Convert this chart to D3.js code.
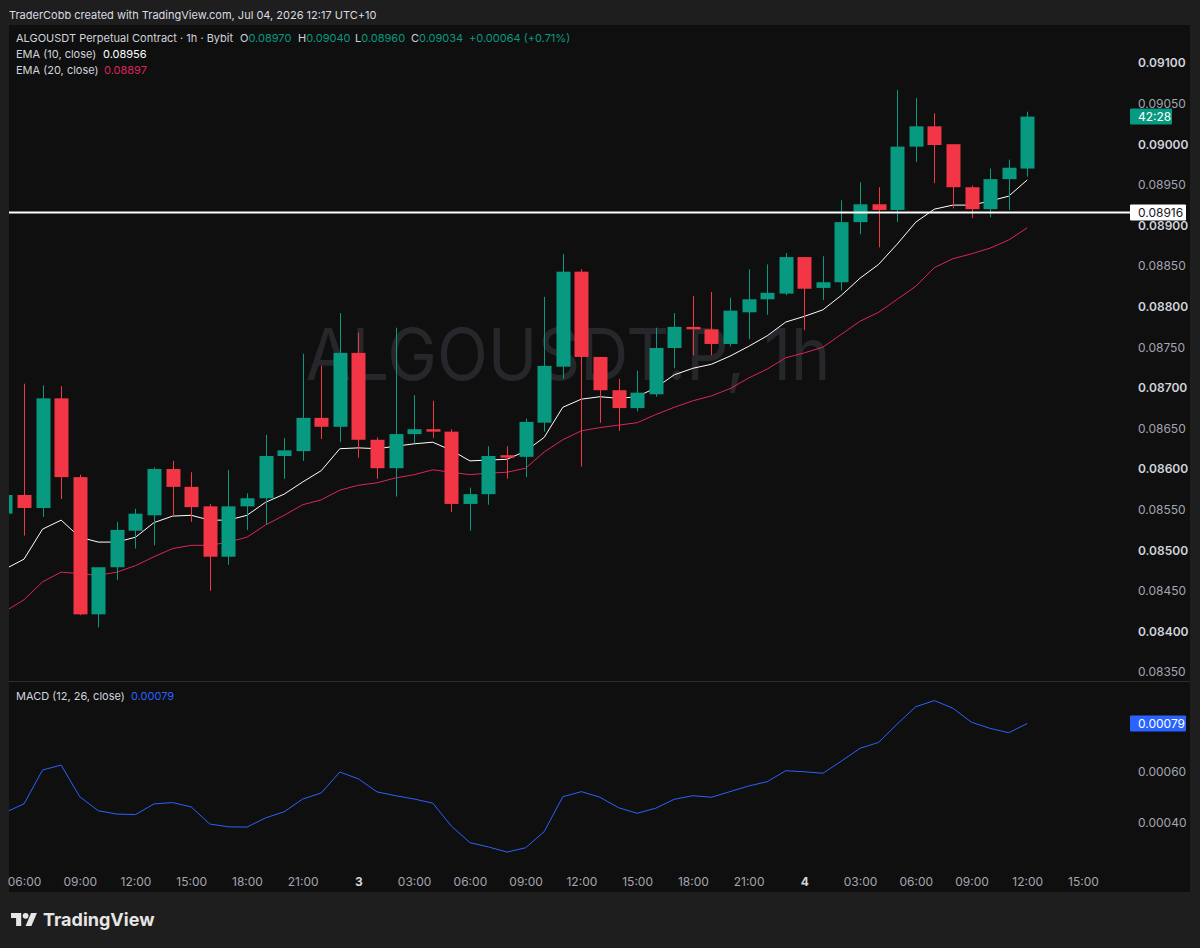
<!DOCTYPE html>
<html>
<head>
<meta charset="utf-8">
<script src="https://cdn.jsdelivr.net/npm/d3@7"></script>
<style>
  html, body { margin: 0; padding: 0; background: #1e1e1e; }
  svg { display: block; font-family: Inter, "Noto Sans", sans-serif; }
</style>
</head>
<body>
<svg id="chart" width="1200" height="948"></svg>
<script>
// hourly bars, first one is Jul 2 05:00 (chart time)
const firstBar = Date.UTC(2026, 6, 2, 5);

const opens = [0.08545, 0.08568, 0.08552, 0.08687, 0.08590, 0.08421, 0.08479, 0.08524, 0.08543, 0.08600, 0.08578, 0.08554, 0.08492, 0.08554,
  0.08564, 0.08616, 0.08622, 0.08663, 0.08652, 0.08743, 0.08636, 0.08601, 0.08643, 0.08649, 0.08646, 0.08557, 0.08569, 0.08617, 0.08615,
  0.08657, 0.08726, 0.08843, 0.08738, 0.08697, 0.08675, 0.08692, 0.08749, 0.08775, 0.08772, 0.08754, 0.08793, 0.08809, 0.08816, 0.08861, 0.08823,
  0.08830, 0.08904, 0.08926, 0.08919, 0.08997, 0.09022, 0.09000, 0.08947, 0.08920, 0.08957, 0.08970];
const highs = [0.08574, 0.08705, 0.08703, 0.08702, 0.08593, 0.08479, 0.08535, 0.08551, 0.08602, 0.08610, 0.08596, 0.08557, 0.08599, 0.08570,
  0.08642, 0.08638, 0.08742, 0.08727, 0.08792, 0.08768, 0.08639, 0.08774, 0.08691, 0.08684, 0.08649, 0.08577, 0.08628, 0.08628, 0.08662,
  0.08812, 0.08865, 0.08846, 0.08738, 0.08711, 0.08721, 0.08774, 0.08792, 0.08813, 0.08818, 0.08811, 0.08846, 0.08852, 0.08866, 0.08861, 0.08862,
  0.08931, 0.08953, 0.08947, 0.09067, 0.09057, 0.09038, 0.09000, 0.08949, 0.08970, 0.08981, 0.09040];
const lows = [0.08540, 0.08518, 0.08541, 0.08563, 0.08420, 0.08405, 0.08463, 0.08502, 0.08506, 0.08542, 0.08535, 0.08450, 0.08482, 0.08525,
  0.08532, 0.08588, 0.08610, 0.08637, 0.08633, 0.08614, 0.08588, 0.08566, 0.08632, 0.08638, 0.08547, 0.08524, 0.08556, 0.08588, 0.08590,
  0.08646, 0.08711, 0.08603, 0.08657, 0.08647, 0.08671, 0.08689, 0.08724, 0.08740, 0.08740, 0.08751, 0.08760, 0.08790, 0.08814, 0.08771, 0.08808,
  0.08820, 0.08889, 0.08873, 0.08904, 0.08978, 0.08952, 0.08921, 0.08909, 0.08910, 0.08919, 0.08960];
const closes = [0.08568, 0.08552, 0.08687, 0.08590, 0.08421, 0.08479, 0.08525, 0.08545, 0.08600, 0.08578, 0.08553, 0.08492, 0.08554, 0.08564,
  0.08616, 0.08623, 0.08663, 0.08652, 0.08743, 0.08636, 0.08601, 0.08643, 0.08649, 0.08646, 0.08557, 0.08569, 0.08616, 0.08614, 0.08658,
  0.08727, 0.08843, 0.08738, 0.08697, 0.08675, 0.08694, 0.08749, 0.08775, 0.08772, 0.08754, 0.08795, 0.08809, 0.08817, 0.08861, 0.08822, 0.08830,
  0.08904, 0.08926, 0.08919, 0.08997, 0.09022, 0.08999, 0.08947, 0.08920, 0.08957, 0.08971, 0.09034];

const ema10 = [0.08477, 0.08489, 0.08526, 0.08537, 0.08516, 0.08510, 0.08510, 0.08516, 0.08534, 0.08542, 0.08543, 0.08537, 0.08537, 0.08543,
  0.08559, 0.08569, 0.08584, 0.08598, 0.08625, 0.08626, 0.08625, 0.08628, 0.08631, 0.08633, 0.08623, 0.08610, 0.08611, 0.08612, 0.08622,
  0.08639, 0.08676, 0.08686, 0.08689, 0.08687, 0.08689, 0.08700, 0.08716, 0.08724, 0.08729, 0.08739, 0.08751, 0.08764, 0.08781, 0.08788, 0.08796,
  0.08814, 0.08835, 0.08852, 0.08877, 0.08904, 0.08920, 0.08925, 0.08925, 0.08930, 0.08936, 0.08956];
const ema20 = [0.08425, 0.08439, 0.08461, 0.08473, 0.08471, 0.08469, 0.08473, 0.08481, 0.08492, 0.08502, 0.08506, 0.08506, 0.08510, 0.08516,
  0.08531, 0.08543, 0.08556, 0.08562, 0.08574, 0.08580, 0.08583, 0.08589, 0.08593, 0.08599, 0.08596, 0.08593, 0.08595, 0.08596, 0.08601,
  0.08621, 0.08636, 0.08647, 0.08651, 0.08654, 0.08657, 0.08667, 0.08676, 0.08684, 0.08690, 0.08699, 0.08712, 0.08723, 0.08737, 0.08743, 0.08750,
  0.08766, 0.08782, 0.08793, 0.08809, 0.08825, 0.08848, 0.08859, 0.08865, 0.08872, 0.08882, 0.08897];
const macd = [0.000442, 0.000475, 0.000608, 0.000627, 0.000503, 0.000448, 0.000435, 0.000433, 0.000475, 0.000480, 0.000463, 0.000396, 0.000385, 0.000384,
  0.000420, 0.000444, 0.000494, 0.000518, 0.000600, 0.000573, 0.000522, 0.000507, 0.000494, 0.000478, 0.000388, 0.000323, 0.000306, 0.000286, 0.000303,
  0.000366, 0.000503, 0.000523, 0.000501, 0.000460, 0.000438, 0.000458, 0.000493, 0.000507, 0.000501, 0.000523, 0.000545, 0.000562, 0.000605, 0.000601, 0.000595,
  0.000643, 0.000693, 0.000716, 0.000788, 0.000856, 0.000880, 0.000850, 0.000795, 0.000771, 0.000754, 0.00079];

const priceTicks = [0.0835, 0.0840, 0.0845, 0.0850, 0.0855, 0.0860, 0.0865, 0.0870, 0.0875, 0.0880, 0.0885, 0.0890, 0.0895, 0.0900, 0.0905, 0.0910];
const macdTicks = [0.0004, 0.0006];
const timeLabels = ["06:00", "09:00", "12:00", "15:00", "18:00", "21:00", "3", "03:00", "06:00", "09:00", "12:00", "15:00",
  "18:00", "21:00", "4", "03:00", "06:00", "09:00", "12:00", "15:00"];
const levelPrice = 0.08916;
const countdown = "42:28";

const upColor = "#089981";
const downColor = "#f23645";
const emaFastColor = "#ffffff";
const emaSlowColor = "#dd2456";
const macdColor = "#2962ff";

const bars = opens.map((o, i) => ({
  t: new Date(firstBar + i * 3600000),
  o: o, h: highs[i], l: lows[i], c: closes[i],
  e10: ema10[i], e20: ema20[i], m: macd[i]
}));

const svg = d3.select("#chart");
const pane = { left: 9, right: 1190, top: 25, bottom: 892, split: 681, plotRight: 1128 };

// scales
const x = d3.scaleUtc()
  .domain([new Date(Date.UTC(2026, 6, 2, 6)), new Date(Date.UTC(2026, 6, 4, 15))])
  .range([24, 1083]);
const y = d3.scaleLinear().domain([0.0835, 0.0910]).range([672, 63]);
const ym = d3.scaleLinear().domain([0.0004, 0.0006]).range([823, 772]);
const bodyW = 14;

// frame + chart background
svg.append("rect").attr("width", 1200).attr("height", 948).attr("fill", "#1e1e1e");
svg.append("rect")
  .attr("x", pane.left).attr("y", pane.top)
  .attr("width", pane.right - pane.left).attr("height", pane.bottom - pane.top)
  .attr("fill", "#0f0f0f");
svg.append("line")
  .attr("x1", pane.left).attr("x2", pane.right)
  .attr("y1", pane.split + 0.5).attr("y2", pane.split + 0.5)
  .attr("stroke", "#2e2e2e");

const defs = svg.append("defs");
defs.append("clipPath").attr("id", "clip-price").append("rect")
  .attr("x", pane.left).attr("y", pane.top)
  .attr("width", pane.plotRight - pane.left).attr("height", pane.split - pane.top);
defs.append("clipPath").attr("id", "clip-macd").append("rect")
  .attr("x", pane.left).attr("y", pane.split + 1)
  .attr("width", pane.plotRight - pane.left).attr("height", 862 - pane.split);

// watermark
svg.append("text")
  .attr("x", 568).attr("y", 380)
  .attr("text-anchor", "middle")
  .attr("font-size", 72)
  .attr("textLength", 525).attr("lengthAdjust", "spacingAndGlyphs")
  .attr("fill", "#26272b")
  .text("ALGOUSDT.P, 1h");

// price pane
const gPrice = svg.append("g").attr("clip-path", "url(#clip-price)");

const lineFast = d3.line().x(d => x(d.t)).y(d => y(d.e10));
const lineSlow = d3.line().x(d => x(d.t)).y(d => y(d.e20));

gPrice.append("path").datum(bars)
  .attr("d", lineSlow).attr("fill", "none")
  .attr("stroke", emaSlowColor).attr("stroke-width", 1);
gPrice.append("path").datum(bars)
  .attr("d", lineFast).attr("fill", "none")
  .attr("stroke", emaFastColor).attr("stroke-width", 1);

const candle = gPrice.selectAll(".candle").data(bars).join("g").attr("class", "candle");
candle.append("line")
  .attr("x1", d => Math.round(x(d.t)) + 0.5).attr("x2", d => Math.round(x(d.t)) + 0.5)
  .attr("y1", d => y(d.h)).attr("y2", d => y(d.l))
  .attr("stroke", d => d.c >= d.o ? upColor : downColor);
candle.append("rect")
  .attr("x", d => Math.round(x(d.t)) + 0.5 - bodyW / 2)
  .attr("width", bodyW)
  .attr("y", d => y(Math.max(d.o, d.c)))
  .attr("height", d => Math.max(1, Math.abs(y(d.o) - y(d.c))))
  .attr("fill", d => d.c >= d.o ? upColor : downColor);

// horizontal level
svg.append("line")
  .attr("x1", pane.left).attr("x2", 1130)
  .attr("y1", y(levelPrice)).attr("y2", y(levelPrice))
  .attr("stroke", "#ffffff").attr("stroke-width", 2);

// price axis
const isMajor = d => Math.abs(Math.round(d * 1000) - d * 1000) < 1e-6;
const axisPrice = d3.axisRight(y)
  .tickValues(priceTicks)
  .tickSize(0).tickPadding(8)
  .tickFormat(d3.format(".5f"));
const gAxisY = svg.append("g").attr("transform", "translate(1130,0)").call(axisPrice);
gAxisY.select(".domain").remove();
gAxisY.selectAll("text")
  .attr("font-family", "Inter, sans-serif")
  .attr("font-size", 12)
  .attr("font-weight", d => isMajor(d) ? 600 : 400)
  .attr("fill", d => isMajor(d) ? "#d1d4dc" : "#a3a6af");

// label helper for axis boxes
function axisBox(yPos, w, fill, textFill, label) {
  const g = svg.append("g").attr("transform", `translate(1130,${yPos})`);
  g.append("rect").attr("x", 0).attr("y", -8).attr("width", w).attr("height", 16)
    .attr("rx", 1).attr("fill", fill);
  g.append("text").attr("x", 8).attr("y", 0).attr("dy", "0.35em")
    .attr("font-size", 12).attr("fill", textFill).text(label);
}
const last = bars[bars.length - 1];
axisBox(y(last.c), 42, upColor, "#ffffff", countdown);
axisBox(y(levelPrice), 56, "#ffffff", "#131722", d3.format(".5f")(levelPrice));

// macd pane
const gMacd = svg.append("g").attr("clip-path", "url(#clip-macd)");
gMacd.append("path").datum(bars)
  .attr("d", d3.line().x(d => x(d.t)).y(d => ym(d.m)))
  .attr("fill", "none").attr("stroke", macdColor).attr("stroke-width", 1);

const axisMacd = d3.axisRight(ym).tickValues(macdTicks).tickSize(0).tickPadding(8).tickFormat(d3.format(".5f"));
const gAxisM = svg.append("g").attr("transform", "translate(1130,0)").call(axisMacd);
gAxisM.select(".domain").remove();
gAxisM.selectAll("text").attr("font-family", "Inter, sans-serif").attr("font-size", 12).attr("fill", "#a3a6af");
axisBox(ym(last.m), 56, macdColor, "#ffffff", d3.format(".5f")(last.m));

// time axis
const tickTimes = d3.utcHours(new Date(Date.UTC(2026, 6, 2, 6)), new Date(Date.UTC(2026, 6, 4, 16)), 3);
const axisTime = d3.axisBottom(x)
  .tickValues(tickTimes)
  .tickSize(0).tickPadding(0)
  .tickFormat((d, i) => timeLabels[i]);
const gAxisX = svg.append("g").attr("transform", "translate(0,877)").call(axisTime);
gAxisX.select(".domain").remove();
gAxisX.selectAll("text")
  .attr("font-family", "Inter, sans-serif")
  .attr("font-size", 12)
  .attr("font-weight", (d, i) => timeLabels[i].length < 3 ? 700 : 400)
  .attr("fill", (d, i) => timeLabels[i].length < 3 ? "#d1d4dc" : "#a3a6af");

// legends
const legend = svg.append("g").attr("font-size", 11);
legend.append("text").attr("x", 9).attr("y", 19).attr("fill", "#dadce2")
  .text("TraderCobb created with TradingView.com, Jul 04, 2026 12:17 UTC+10");

const ohlc = [["O", last.o], ["H", last.h], ["L", last.l], ["C", last.c]];
const l1 = legend.append("text").attr("y", 42).attr("fill", "#d1d4dc");
l1.append("tspan").attr("x", 16).text("ALGOUSDT Perpetual Contract · 1h · Bybit");
const ohlcX = [240, 298, 355, 411];
ohlc.forEach(([k, v], i) => {
  l1.append("tspan").attr("x", ohlcX[i]).attr("fill", "#d1d4dc").text(k);
  l1.append("tspan").attr("fill", upColor).text(d3.format(".5f")(v));
});
const chg = last.c - last.o;
l1.append("tspan").attr("x", 469).attr("fill", upColor)
  .text(`+${d3.format(".5f")(chg)} (+${d3.format(".2f")(chg / last.o * 100)}%)`);

const l2 = legend.append("text").attr("y", 58).attr("fill", "#d1d4dc");
l2.append("tspan").attr("x", 16).text("EMA (10, close)");
l2.append("tspan").attr("x", 103).attr("fill", "#ffffff").text(d3.format(".5f")(last.e10));
const l3 = legend.append("text").attr("y", 74).attr("fill", "#d1d4dc");
l3.append("tspan").attr("x", 16).text("EMA (20, close)");
l3.append("tspan").attr("x", 104).attr("fill", emaSlowColor).text(d3.format(".5f")(last.e20));

const l4 = legend.append("text").attr("y", 700).attr("fill", "#d1d4dc");
l4.append("tspan").attr("x", 16).text("MACD (12, 26, close)");
l4.append("tspan").attr("x", 131).attr("fill", macdColor).text(d3.format(".5f")(last.m));

// TradingView mark
const logo = svg.append("g").attr("transform", "translate(11,910) scale(0.73)").attr("fill", "#e6e6e6");
logo.append("path").attr("d", "M14 22H7V11H0V4h14v18z");
logo.append("circle").attr("cx", 20).attr("cy", 8).attr("r", 4);
logo.append("path").attr("d", "M28 22h-8l7.5-18h8L28 22z");
svg.append("text").attr("x", 43).attr("y", 926)
  .attr("font-size", 18).attr("font-weight", 700).attr("fill", "#e6e6e6")
  .text("TradingView");
</script>
</body>
</html>
